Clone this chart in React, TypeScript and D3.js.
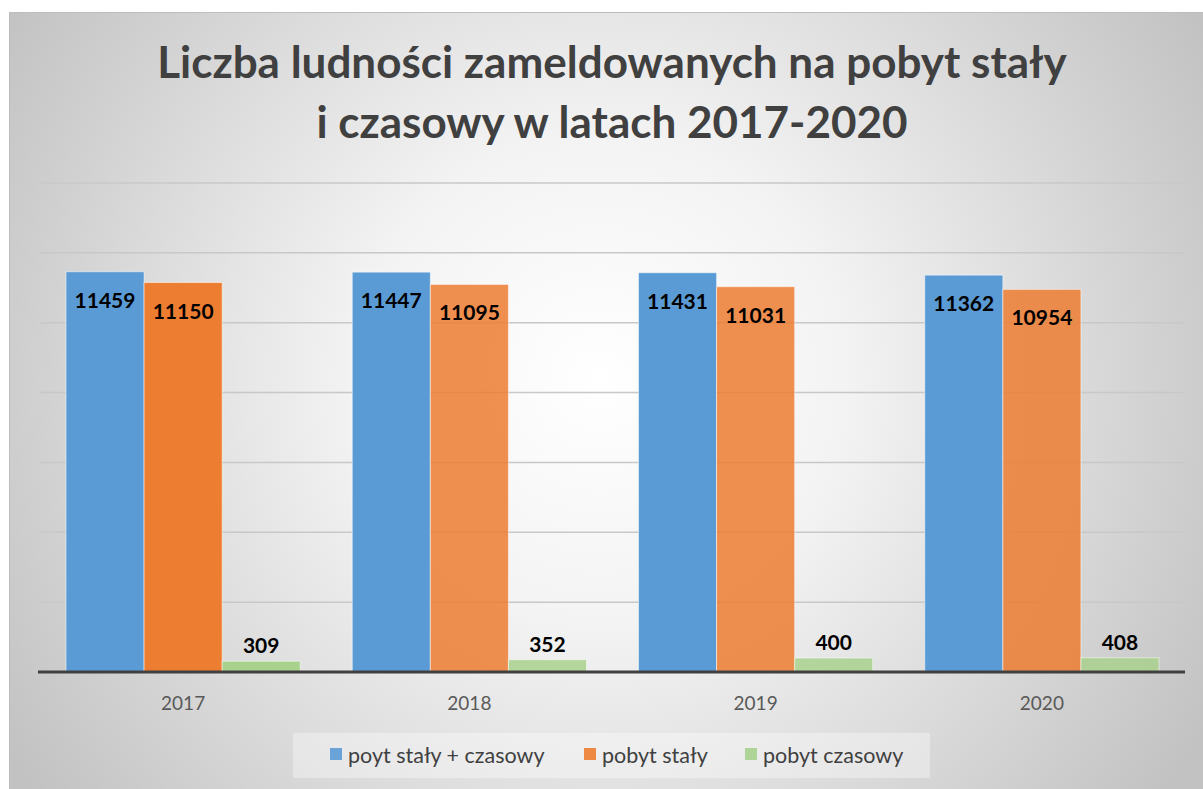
import React from "react";
import * as d3 from "d3";

const categories = ["2017", "2018", "2019", "2020"];
const seriesNames = ["poyt stały + czasowy", "pobyt stały", "pobyt czasowy"];
const totalValues = [11459, 11447, 11431, 11362];
const permanentValues = [11150, 11095, 11031, 10954];
const temporaryValues = [309, 352, 400, 408];
const yTicks = [0, 2000, 4000, 6000, 8000, 10000, 12000, 14000];
const titleLines = ["Liczba ludności zameldowanych na pobyt stały", "i czasowy w latach 2017-2020"];

const W = 1203;
const H = 789;
const colors = ["#5B9BD5", "#ED7D31", "#A9D18E"];
const FONT = "Lato, 'Open Sans', sans-serif";

export default function App() {
  const left = 40, right = 1185, top = 183, bottom = 672;
  const x = d3.scaleBand<string>().domain(categories).range([left, right]).paddingInner(0).paddingOuter(0);
  const inner = d3.scaleBand<number>().domain([0, 1, 2]).range([0, x.bandwidth()]).paddingInner(0).paddingOuter(0.333);
  const y = d3.scaleLinear().domain([0, 14000]).range([bottom, top]);
  const series = [totalValues, permanentValues, temporaryValues];

  return (
    <svg width={W} height={H} style={{ position: "fixed", left: 0, top: 0 }} fontFamily={FONT}>
      <defs>
        <radialGradient id="bg" gradientUnits="userSpaceOnUse" cx={600} cy={380} r={700} fx={600} fy={380}>
          <stop offset="0%" stopColor="#ffffff" />
          <stop offset="35%" stopColor="#f3f3f3" />
          <stop offset="100%" stopColor="#c2c2c2" />
        </radialGradient>
      </defs>
      <rect x={0} y={0} width={W} height={H} fill="#ffffff" />
      <rect x={9.5} y={12.5} width={W} height={H} fill="url(#bg)" stroke="#bdbdbd" strokeWidth={1} />
      {titleLines.map((t, i) => (
        <text key={i} x={612} y={78 + i * 60} textAnchor="middle" fontSize={44} fontWeight="bold" fill="#404040">
          {t}
        </text>
      ))}
      {yTicks.slice(1).map((t) => (
        <line key={t} x1={left} x2={right} y1={y(t)} y2={y(t)} stroke="#c8c8c8" strokeWidth={1.5} />
      ))}
      {categories.map((c, ci) => (
        <g key={c} transform={`translate(${x(c)},0)`}>
          {series.map((vals, si) => {
            const bx = inner(si)!;
            const bw = inner.bandwidth();
            const by = y(vals[ci]);
            const bh = bottom - by;
            const inside = si < 2;
            return (
              <g key={si}>
                <rect
                  x={bx}
                  y={by}
                  width={bw}
                  height={bh}
                  fill={colors[si]}
                  fillOpacity={ci === 0 || si === 0 ? 1 : 0.85}
                  stroke="#ffffff"
                  strokeOpacity={0.5}
                  strokeWidth={1}
                />
                <text
                  x={bx + bw / 2}
                  y={inside ? by + 36 : by - 8}
                  textAnchor="middle"
                  fontSize={21}
                  fontWeight="bold"
                  fill="#000000"
                >
                  {vals[ci]}
                </text>
              </g>
            );
          })}
          <text x={x.bandwidth() / 2} y={710} textAnchor="middle" fontSize={19} fill="#595959">
            {c}
          </text>
        </g>
      ))}
      <line x1={38} x2={right} y1={bottom} y2={bottom} stroke="#404040" strokeWidth={3} />
      <rect x={293} y={733} width={637} height={45} fill="#ffffff" fillOpacity={0.35} />
      {seriesNames.map((n, i) => {
        const xs = [330, 584, 745][i];
        return (
          <g key={n}>
            <rect x={xs} y={748} width={12} height={12} fill={colors[i]} fillOpacity={0.9} />
            <text x={xs + 18} y={763} fontSize={21.5} fill="#404040">
              {n}
            </text>
          </g>
        );
      })}
    </svg>
  );
}
